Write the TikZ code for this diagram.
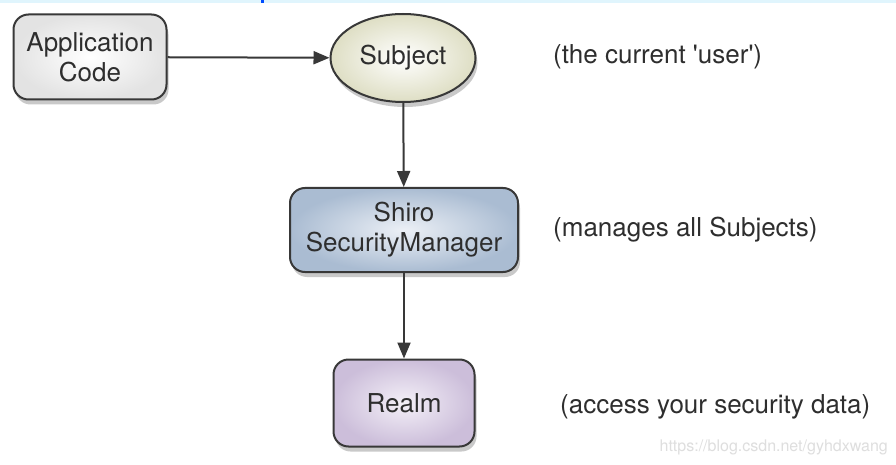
\documentclass[tikz,border=0pt]{standalone}
\usepackage{fontspec}
\setmainfont{TeX Gyre Heros}
\usetikzlibrary{shapes.geometric,shadows,arrows.meta}
\definecolor{edge}{HTML}{383838}
\definecolor{txt}{HTML}{2E2E2E}
\tikzset{
  base/.style={draw=edge, line width=2pt, text=txt, font=\fontsize{26}{30}\selectfont,
    align=center, inner sep=0pt,
    drop shadow={shadow xshift=2pt, shadow yshift=-5pt, opacity=0.35, fill=black!60}},
  boxnode/.style={base, rectangle, rounded corners=15pt},
  appbox/.style={boxnode, minimum width=153pt, minimum height=85pt, inner color=white, outer color=gray!22},
  subj/.style={base, ellipse, minimum width=145pt, minimum height=88pt, inner color=white, outer color={rgb,255:red,222;green,222;blue,196}},
  smbox/.style={boxnode, minimum width=228pt, minimum height=84pt, inner color={rgb,255:red,236;green,240;blue,246}, outer color={rgb,255:red,170;green,188;blue,210}},
  realmbox/.style={boxnode, minimum width=141pt, minimum height=87pt, inner color={rgb,255:red,244;green,240;blue,248}, outer color={rgb,255:red,204;green,190;blue,218}},
  note/.style={text=txt, font=\fontsize{26}{30}\selectfont, anchor=west, inner sep=0pt},
  conn/.style={draw=edge, line width=2pt, -{Triangle[length=16pt,width=13pt]}},
}
\begin{document}
\begin{tikzpicture}[x=1pt,y=-1pt]
\useasboundingbox (0,0) rectangle (896,465);
\fill[white] (0,0) rectangle (896,465);
\fill[cyan!12] (0,0) rectangle (896,3);
\fill[blue!70!cyan] (261,0) rectangle (264,3);
\node[appbox] (app) at (90,57) {Application\\Code};
\node[subj] (subject) at (403,58) {Subject};
\node[smbox] (sm) at (404,230) {Shiro\\SecurityManager};
\node[realmbox] (realm) at (404,403) {Realm};
\draw[conn] (app) -- (subject);
\draw[conn] (subject) -- (sm);
\draw[conn] (sm) -- (realm);
\node[note] (n1) at (553,57) {(the current \textquotesingle user\textquotesingle)};
\node[note] (n2) at (553,230) {(manages all Subjects)};
\node[note] (n3) at (560,407) {(access your security data)};
\node[text=black!13, font=\fontsize{16}{20}\selectfont, anchor=east, inner sep=0pt] (wm) at (888,447) {https://blog.csdn.net/gyhdxwang};
\end{tikzpicture}
\end{document}
